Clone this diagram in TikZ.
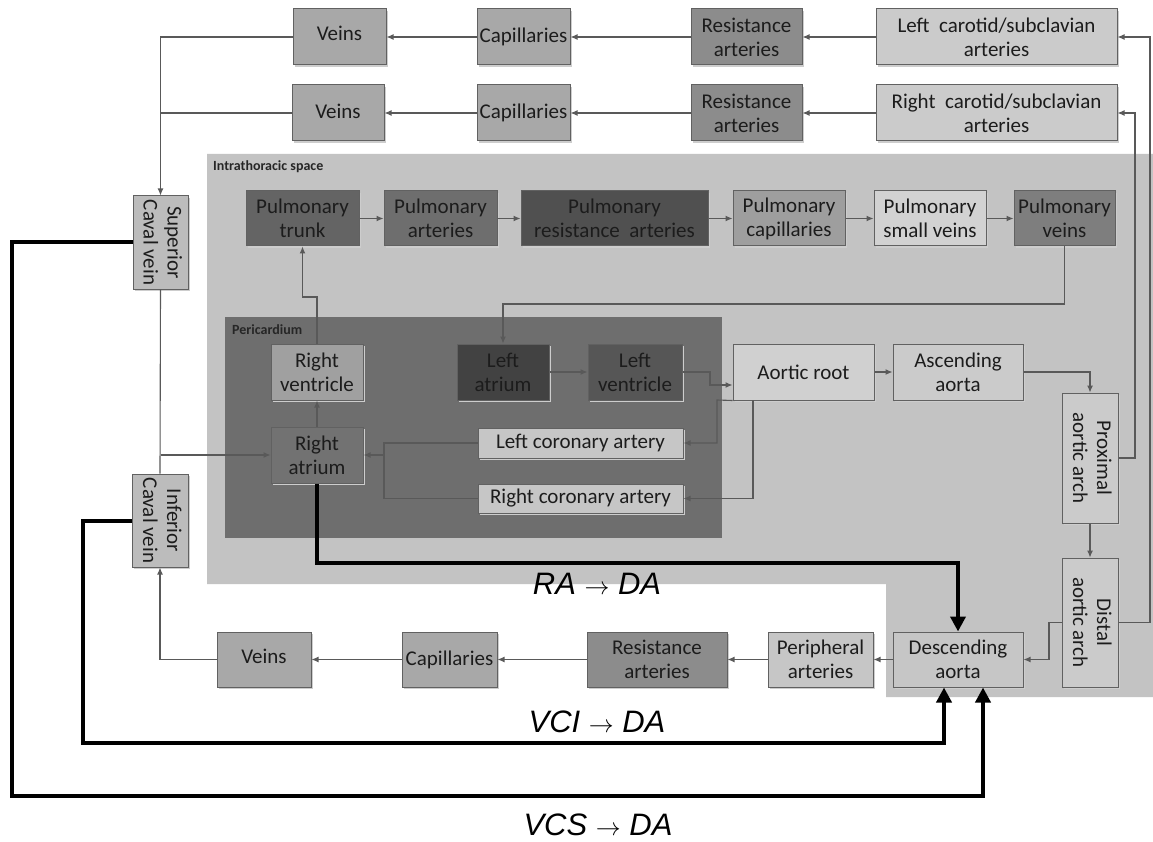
\documentclass[tikz,border=0pt]{standalone}
\usepackage{fontspec}
\usepackage{graphicx}
\setmainfont{Carlito}
\newfontfamily\arialfont{Liberation Sans}
\usetikzlibrary{arrows.meta,calc,shadows}
\definecolor{cVein}{RGB}{168,168,168}
\definecolor{cRes}{RGB}{140,140,140}
\definecolor{cCar}{RGB}{203,203,203}
\definecolor{cThor}{RGB}{195,195,195}
\definecolor{cPeri}{RGB}{110,110,110}
\definecolor{cPT}{RGB}{100,100,100}
\definecolor{cPA}{RGB}{110,110,110}
\definecolor{cPRA}{RGB}{80,80,80}
\definecolor{cPC}{RGB}{158,158,158}
\definecolor{cPSV}{RGB}{210,210,210}
\definecolor{cPV}{RGB}{126,126,126}
\definecolor{cRV}{RGB}{160,160,160}
\definecolor{cRA}{RGB}{114,114,114}
\definecolor{cLA}{RGB}{66,66,66}
\definecolor{cLV}{RGB}{86,86,86}
\definecolor{cLight}{RGB}{208,208,208}
\definecolor{cCor}{RGB}{198,198,198}
\definecolor{cCav}{RGB}{188,188,188}
\definecolor{cShadow}{RGB}{205,205,205}
\definecolor{cText}{RGB}{28,28,28}
\newcommand{\vtext}[2]{\rotatebox{-90}{\begin{tabular}{@{}c@{}}#1\\#2\end{tabular}}}
\begin{document}
\begin{tikzpicture}[x=1pt,y=-1pt,
 box/.style={draw=black!62,line width=1pt,inner sep=0pt,align=center,
   font=\fontsize{21}{24}\selectfont,text=cText,
   drop shadow={shadow xshift=1.6pt,shadow yshift=-1.6pt,fill=cShadow,opacity=1}},
 conn/.style={draw=black!65,line width=1.1pt},
 arr/.style={conn,-{Latex[length=7pt,width=6pt]}},
 bigarr/.style={draw=black,line width=4pt,-{Triangle[length=15pt,width=15pt]}},
 flow/.style={font=\arialfont\itshape\fontsize{31}{36}\selectfont,text=black},
 region/.style={font=\bfseries\fontsize{14}{16}\selectfont,text=black!85,anchor=north west,inner sep=0pt}
]
\useasboundingbox (0,0) rectangle (1153,842);
\fill[white] (0,0) rectangle (1153,842);

% regions
\fill[cThor] (207,154) -- (1153,154) -- (1153,697) -- (886,697) -- (886,584) -- (207,584) -- cycle;
\fill[cPeri] (225,317) rectangle (722,538);
\node[region] (thor) at (213,160) {Intrathoracic space};
\node[region] (peri) at (232,324) {Pericardium};

% top rows
\node[box,fill=cVein,minimum width=93pt,minimum height=56pt] (v1) at (339.5,37) {\raisebox{7pt}{Veins}};
\node[box,fill=cVein,minimum width=93pt,minimum height=56pt] (c1) at (523.5,37) {Capillaries};
\node[box,fill=cRes,minimum width=111pt,minimum height=56pt] (r1) at (746.5,37) {Resistance\\arteries};
\node[box,fill=cCar,minimum width=241pt,minimum height=56pt] (lc) at (996.5,37) {Left~ carotid/subclavian\\arteries};
\node[box,fill=cVein,minimum width=92pt,minimum height=56pt] (v2) at (338,113) {\raisebox{3pt}{Veins}};
\node[box,fill=cVein,minimum width=93pt,minimum height=56pt] (c2) at (523.5,113) {Capillaries};
\node[box,fill=cRes,minimum width=111pt,minimum height=56pt] (r2) at (746.5,113) {Resistance\\arteries};
\node[box,fill=cCar,minimum width=241pt,minimum height=56pt] (rc) at (996.5,113) {Right~ carotid/subclavian\\arteries};

% pulmonary row
\node[box,fill=cPT,minimum width=113pt,minimum height=55pt] (pt) at (302.5,218.5) {Pulmonary\\trunk};
\node[box,fill=cPA,minimum width=113pt,minimum height=55pt] (pa) at (440.5,218.5) {Pulmonary\\arteries};
\node[box,fill=cPRA,minimum width=187pt,minimum height=55pt] (pra) at (614.5,218.5) {Pulmonary\\resistance~ arteries};
\node[box,fill=cPC,minimum width=112pt,minimum height=55pt] (pc) at (789,218.5) {Pulmonary\\capillaries};
\node[box,fill=cPSV,minimum width=112pt,minimum height=55pt] (psv) at (930,218.5) {Pulmonary\\small veins};
\node[box,fill=cPV,minimum width=101pt,minimum height=55pt] (pv) at (1064.5,218.5) {Pulmonary\\veins};

% heart row
\node[box,fill=cRV,minimum width=92pt,minimum height=56pt] (rv) at (317,372) {Right\\ventricle};
\node[box,fill=cLA,minimum width=92pt,minimum height=56pt] (la) at (503,372) {Left\\atrium};
\node[box,fill=cLV,minimum width=94pt,minimum height=56pt] (lv) at (635,372) {Left\\ventricle};
\node[box,fill=cLight,minimum width=141pt,minimum height=56pt] (ar) at (803.5,372) {Aortic root};
\node[box,fill=cCar,minimum width=130pt,minimum height=56pt] (aa) at (958,372) {Ascending\\aorta};
\node[box,fill=cRA,minimum width=92pt,minimum height=56pt] (ra) at (317,455) {Right\\atrium};
\node[box,fill=cCor,minimum width=205pt,minimum height=30pt] (lca) at (580.5,443) {Left coronary artery};
\node[box,fill=cCor,minimum width=205pt,minimum height=29pt] (rca) at (580.5,498.5) {Right coronary artery};

% vertical boxes
\node[box,fill=cCav,minimum width=55pt,minimum height=93pt] (scv) at (160.5,242.5) {\vtext{Superior}{Caval vein}};
\node[box,fill=cCav,minimum width=56pt,minimum height=93pt] (ivc) at (160,520.5) {\vtext{Inferior}{Caval vein}};
\node[box,fill=cCar,minimum width=56pt,minimum height=130pt] (pxa) at (1090,458) {\vtext{Proximal}{aortic arch}};
\node[box,fill=cCar,minimum width=56pt,minimum height=129pt] (dsa) at (1090,622.5) {\vtext{Distal}{aortic arch}};

% bottom row
\node[box,fill=cVein,minimum width=94pt,minimum height=55pt] (v3) at (264,659.5) {\raisebox{6pt}{Veins}};
\node[box,fill=cVein,minimum width=95pt,minimum height=55pt] (c3) at (449.5,659.5) {Capillaries};
\node[box,fill=cRes,minimum width=140pt,minimum height=55pt] (r3) at (657,659.5) {Resistance\\arteries};
\node[box,fill=cCor,minimum width=105pt,minimum height=55pt] (per) at (820.5,659.5) {Peripheral\\arteries};
\node[box,fill=cCor,minimum width=130pt,minimum height=55pt] (da) at (958,659.5) {Descending\\aorta};

% coordinates
\coordinate (kPV) at (1064.5,304);
\coordinate (kRV) at (302.5,297);
\coordinate (kLV1) at (710,372);
\coordinate (kLV2) at (710,385);
\coordinate (kCor1) at (384,443);
\coordinate (kCor2) at (384,498.5);
\coordinate (kDs) at (1049,622.5);
\coordinate (kDr) at (1150,622.5);
\coordinate (kPr) at (1135,458);
\coordinate (kAr1) at (717,400);
\coordinate (kAr2) at (753,400);
\coordinate (kRA) at (640,563);
\coordinate (kVCI) at (83,743);
\coordinate (kVCS) at (12,796);

% top row connectors
\draw[arr] (lc.west) -- (r1.east);
\draw[arr] (r1.west) -- (c1.east);
\draw[arr] (c1.west) -- (v1.east);
\draw[arr] (rc.west) -- (r2.east);
\draw[arr] (r2.west) -- (c2.east);
\draw[arr] (c2.west) -- (v2.east);
\draw[arr] (v1.west) -| (scv.north);
\draw[conn] (v2.west) -- (scv.north |- v2.west);

% pulmonary connectors
\draw[arr] (pt.east) -- (pa.west);
\draw[arr] (pa.east) -- (pra.west);
\draw[arr] (pra.east) -- (pc.west);
\draw[arr] (pc.east) -- (psv.west);
\draw[arr] (psv.east) -- (pv.west);
\draw[arr] (pv.south) -- (kPV) -| (la.north);
\draw[arr] (rv.north) |- (kRV) -- (pt.south);

% heart connectors
\draw[arr] (ra.north) -- (rv.south);
\draw[conn] (scv.south) -- (ivc.north);
\draw[arr] (scv.south |- ra.west) -- (ra.west);
\draw[arr] (la.east) -- (lv.west);
\draw[arr] (lv.east) -- (kLV1) -- (kLV2) -- (ar.west |- kLV2);
\draw[arr] (ar.east) -- (aa.west);
\draw[arr] (aa.east) -| (pxa.north);
\draw[arr] (pxa.south) -- (dsa.north);
\draw[arr] (dsa.west) -- (kDs) |- (da.east);
\draw[arr] (dsa.east) -- (kDr) |- (lc.east);
\draw[arr] (pxa.east) -- (kPr) |- (rc.east);
\draw[arr] (ar.south west) -- (kAr1) |- (lca.east);
\draw[arr] (kAr2) |- (rca.east);
\draw[conn] (lca.west) -- (kCor1) -- (kCor2) -- (rca.west);
\draw[arr] (kCor1 |- ra.east) -- (ra.east);

% bottom row connectors
\draw[arr] (da.west) -- (per.east);
\draw[arr] (per.west) -- (r3.east);
\draw[arr] (r3.west) -- (c3.east);
\draw[arr] (c3.west) -- (v3.east);
\draw[arr] (v3.west) -| (ivc.south);

% thick shunt arrows
\draw[bigarr] (ra.south) |- (kRA) -| (da.north);
\draw[bigarr] (ivc.west) -| (kVCI) -| ([xshift=-14pt]da.south);
\draw[bigarr] (scv.west) -| (kVCS) -| ([xshift=25pt]da.south);

% labels
\node[flow] (lRA) at (597,584) {RA $\rightarrow$ DA};
\node[flow] (lVCI) at (597,722) {VCI $\rightarrow$ DA};
\node[flow] (lVCS) at (598,825) {VCS $\rightarrow$ DA};
\end{tikzpicture}
\end{document}
